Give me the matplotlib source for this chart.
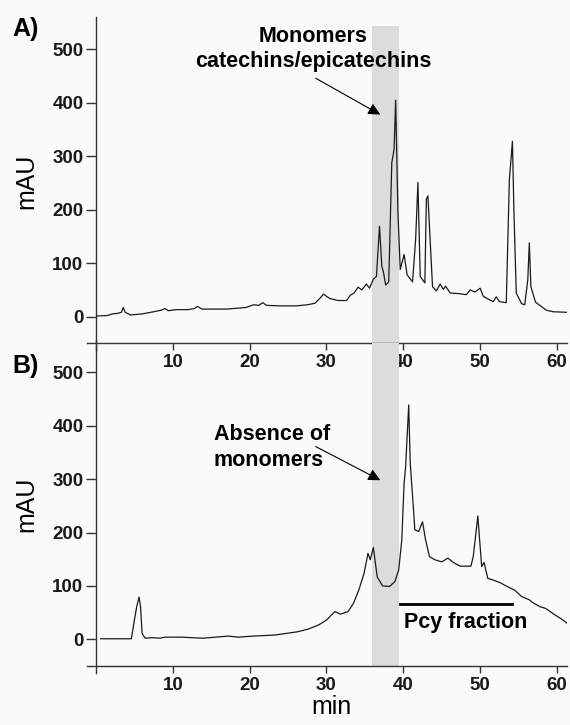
import matplotlib.pyplot as plt

plt.rcParams['font.family'] = ['Liberation Sans', 'DejaVu Sans']

# Chromatogram A (time in min, absorbance in mAU)
time_a = [0, 1.5, 2.1, 2.8, 3.3, 3.55, 3.8, 4.5, 6.0, 7.5,
          8.5, 9.0, 9.4, 10.5, 12.0, 12.8, 13.2, 13.8, 15, 17,
          19.5, 20.5, 21.2, 21.7, 22.2, 24, 26, 27.5, 28.5, 29.2,
          29.6, 30.4, 31.5, 32.6, 33.1, 33.6, 34.1, 34.6, 35.2, 35.6,
          36.1, 36.5, 36.9, 37.2, 37.4, 37.7, 38.1, 38.5, 38.8, 39.0,
          39.3, 39.6, 40.1, 40.5, 41.2, 41.6, 41.9, 42.2, 42.8, 43.0,
          43.2, 43.4, 43.8, 44.3, 44.8, 45.2, 45.5, 46.1, 47.2, 48.2,
          48.7, 49.3, 50.0, 50.4, 51.0, 51.7, 52.1, 52.5, 53.4, 53.8,
          54.2, 54.4, 54.7, 55.4, 55.8, 56.2, 56.4, 56.6, 57.2, 58.6,
          59.5, 61.3]
abs_a = [1, 2, 5, 6, 8, 17, 8, 3, 5, 9,
         12, 15, 11, 13, 13, 15, 19, 14, 14, 14,
         17, 22, 21, 26, 21, 20, 20, 22, 25, 35,
         42, 34, 30, 30, 40, 44, 55, 50, 61, 53,
         70, 75, 169, 94, 84, 59, 65, 288, 313, 405,
         194, 88, 116, 78, 65, 144, 251, 75, 63, 220,
         226, 169, 56, 48, 61, 51, 57, 44, 43, 41,
         50, 46, 53, 38, 33, 28, 37, 28, 26, 256,
         328, 194, 44, 24, 22, 69, 138, 56, 27, 12,
         9, 8]

# Chromatogram B
time_b = [0.6, 2, 4.6, 5.0, 5.3, 5.6, 5.8, 6.0, 6.4, 7.3,
          8.3, 9, 11.1, 13.9, 17.2, 18.5, 20.5, 23.3, 26.2, 27.6,
          29.0, 30.0, 30.4, 31.1, 31.8, 32.8, 33.5, 34.2, 34.9, 35.4,
          35.7, 36.1, 36.6, 37.3, 38.2, 38.9, 39.4, 39.8, 40.1, 40.3,
          40.7, 40.9, 41.3, 41.5, 42.0, 42.5, 42.9, 43.4, 44.1, 45.0,
          45.8, 46.5, 47.4, 48.8, 49.1, 49.7, 49.9, 50.2, 50.5, 51.0,
          51.7, 52.6, 53.5, 54.5, 55.4, 56.4, 56.8, 57.8, 58.5, 59.7,
          60.8, 61.3]
abs_b = [1, 1, 1, 36, 61, 79, 61, 11, 2, 3,
         2, 4, 4, 2, 6, 4, 6, 8, 14, 19,
         27, 36, 42, 52, 47, 52, 67, 92, 124, 161,
         149, 172, 117, 100, 99, 108, 130, 186, 292, 323,
         439, 330, 248, 205, 202, 220, 186, 155, 149, 145,
         152, 144, 137, 137, 155, 231, 192, 136, 144, 114,
         111, 106, 99, 92, 80, 74, 69, 61, 58, 46,
         36, 30]

monomer_window = (35.9, 39.4)
pcy_fraction = (39.6, 54.1)
xticks = [10, 20, 30, 40, 50, 60]
yticks = [0, 100, 200, 300, 400, 500]

fig = plt.figure(figsize=(5.7, 7.25), dpi=100, facecolor='#fafafa')
axA = fig.add_axes([0.1684, 0.5265, 0.8263, 0.4459])
axB = fig.add_axes([0.1684, 0.0814, 0.8263, 0.4455])

for ax, t, y in [(axA, time_a, abs_a), (axB, time_b, abs_b)]:
    ax.set_facecolor('none')
    ax.plot(t, y, color='#1a1a1a', lw=0.9, zorder=3)
    ax.set_xlim(0, 61.3)
    ax.set_ylim(-50, 555)
    for s in ['top', 'right']:
        ax.spines[s].set_visible(False)
    for s in ['left', 'bottom']:
        ax.spines[s].set_color('#333333')
        ax.spines[s].set_linewidth(1.0)
    ax.spines['left'].set_bounds(-63, 560)
    ax.spines['bottom'].set_bounds(-1.2, 61.3)
    ax.set_xticks(xticks)
    ax.set_yticks(yticks)
    ax.tick_params(axis='y', length=7, width=1, color='#333333', pad=2,
                   labelsize=13.5)
    ax.tick_params(axis='x', length=5, width=1, color='#333333', pad=3,
                   labelsize=13.5)
    for lab in ax.get_xticklabels() + ax.get_yticklabels():
        lab.set_fontweight('bold')
        lab.set_color('#1a1a1a')
    ax.set_ylabel('mAU', fontsize=18, labelpad=10)

axA.axvspan(*monomer_window, ymin=0, ymax=(544 + 50) / 605, color='#dcdcdc',
            lw=0, zorder=0)
axB.axvspan(*monomer_window, color='#dcdcdc', lw=0, zorder=0)

axB.set_xlabel('min', fontsize=18, labelpad=1)

# Panel letters
fig.text(0.022, 0.977, 'A)', fontsize=18, fontweight='bold', va='top')
fig.text(0.022, 0.512, 'B)', fontsize=18, fontweight='bold', va='top')

# Annotations
arrow = dict(arrowstyle='-|>', color='black', lw=0.8, mutation_scale=18,
             shrinkA=0, shrinkB=0)
axA.text(28.3, 525, 'Monomers', ha='center', va='center', fontsize=15.5,
         fontweight='bold')
axA.text(28.3, 477, 'catechins/epicatechins', ha='center', va='center',
         fontsize=15.5, fontweight='bold')
axA.annotate('', xy=(37.0, 378), xytext=(28.6, 446), arrowprops=arrow)

axB.text(15.3, 383, 'Absence of', ha='left', va='center', fontsize=15.5,
         fontweight='bold')
axB.text(15.3, 335, 'monomers', ha='left', va='center', fontsize=15.5,
         fontweight='bold')
axB.annotate('', xy=(37.0, 298), xytext=(28.6, 361), arrowprops=arrow)

axB.plot(pcy_fraction, [67, 67], color='black', lw=2, zorder=4)
axB.text(48.1, 31, 'Pcy fraction', ha='center', va='center', fontsize=15.5,
         fontweight='bold')

fig.savefig('out.png', dpi=100, facecolor=fig.get_facecolor())
